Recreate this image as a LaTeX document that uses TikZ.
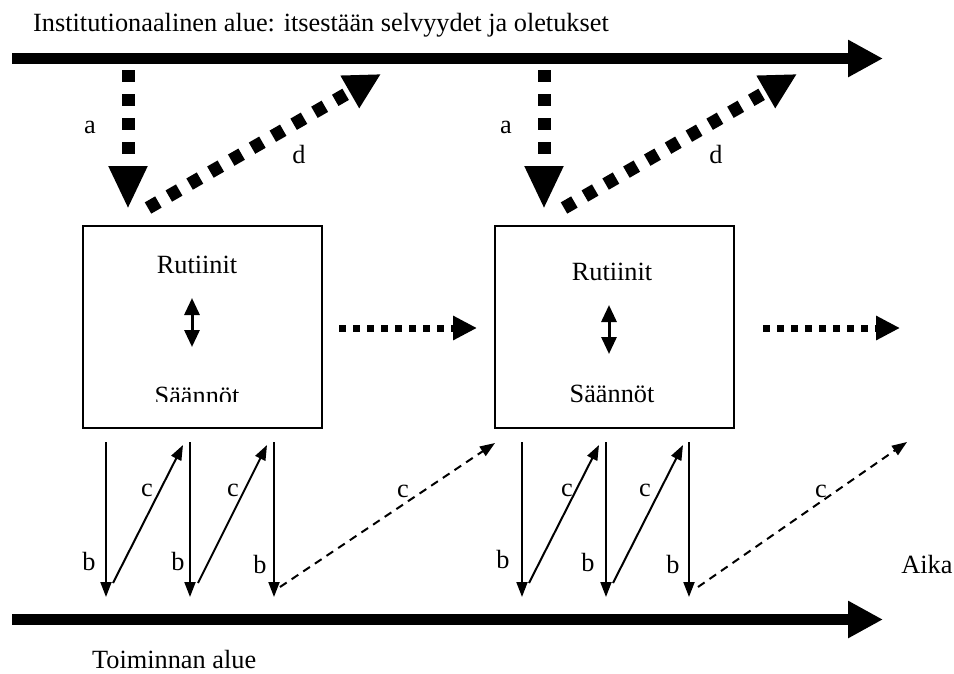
\documentclass[tikz,border=0pt]{standalone}
\usepackage{fontspec}
\setmainfont{Liberation Serif}
\usetikzlibrary{arrows.meta}
\begin{document}
\begin{tikzpicture}[x=1pt,y=-1pt,
  txt/.style={font=\fontsize{26.3}{30}\selectfont, inner sep=0pt, anchor=base},
  lbl/.style={txt},
  boxnode/.style={draw, line width=2pt, inner sep=0pt},
  bigbar/.style={line width=11pt, -{Triangle[length=35pt,width=35pt]}},
  fatdash/.style={line width=13pt, dash pattern=on 12pt off 12pt, -{Triangle[length=43pt,width=36pt]}},
  fatdashd/.style={line width=13pt, dash pattern=on 12pt off 12pt, -{Triangle[length=36pt,width=35pt]}},
  dotarrow/.style={line width=7pt, dash pattern=on 7pt off 7pt, -{Triangle[length=24pt,width=23pt]}},
  thin/.style={line width=2pt, -{Triangle[length=15pt,width=11pt]}},
  thindash/.style={thin, dash pattern=on 8pt off 6pt},
  dbl/.style={line width=3pt, {Triangle[length=17pt,width=15pt]}-{Triangle[length=17pt,width=15pt]}}
]
\useasboundingbox (0,0) rectangle (954,673);

% texts
\node[txt, anchor=base west] (title) at (33,31) {Institutionaalinen alue: itsestään selvyydet ja oletukset};
\node[txt, anchor=base west] (toim) at (92,668) {Toiminnan alue};
\node[txt] (aika) at (927,573) {Aika};

% main bars
\coordinate (t0) at (12,58.5);
\coordinate (t1) at (883,58.5);
\coordinate (u0) at (12,619.5);
\coordinate (u1) at (883,619.5);
\draw[bigbar] (t0) -- (t1);
\draw[bigbar] (u0) -- (u1);

% boxes
\node[boxnode, minimum width=239pt, minimum height=202pt] (box1) at (202.5,327) {};
\node[boxnode, minimum width=239pt, minimum height=202pt] (box2) at (614.5,327) {};

\node[txt] (rut1) at (197,273) {Rutiinit};
\begin{scope}
  \clip (84,227) rectangle (321,401);
  \node[txt] (saa1) at (197,404) {Säännöt};
\end{scope}
\node[txt] (rut2) at (612,280) {Rutiinit};
\node[txt] (saa2) at (612,402) {Säännöt};

\coordinate (da1) at (192,298); \coordinate (db1) at (192,347);
\coordinate (da2) at (609,305); \coordinate (db2) at (609,354);
\draw[dbl] (da1) -- (db1);
\draw[dbl] (da2) -- (db2);

% a and d arrows
\coordinate (a1s) at (128,70);  \coordinate (a1e) at (128,209);
\coordinate (a2s) at (544,70);  \coordinate (a2e) at (544,209);
\coordinate (d1s) at (148,208); \coordinate (d1e) at (381,74);
\coordinate (d2s) at (564,208); \coordinate (d2e) at (797,74);
\draw[fatdash] (a1s) -- (a1e);
\draw[fatdash] (a2s) -- (a2e);
\draw[fatdashd] (d1s) -- (d1e);
\draw[fatdashd] (d2s) -- (d2e);
\node[lbl] (la1) at (90,133) {a};
\node[lbl] (la2) at (506,133) {a};
\node[lbl] (ld1) at (299,163) {d};
\node[lbl] (ld2) at (716,163) {d};

% horizontal dotted arrows
\coordinate (h1s) at (339,328); \coordinate (h1e) at (477,328);
\coordinate (h2s) at (763,328); \coordinate (h2e) at (900,328);
\draw[dotarrow] (h1s) -- (h1e);
\draw[dotarrow] (h2s) -- (h2e);

% lower thin arrows, left group
\coordinate (b1s) at (106,442); \coordinate (b1e) at (106,597);
\coordinate (b2s) at (190,442); \coordinate (b2e) at (190,597);
\coordinate (b3s) at (274,442); \coordinate (b3e) at (274,597);
\coordinate (c1s) at (113,583); \coordinate (c1e) at (183,445);
\coordinate (c2s) at (198,583); \coordinate (c2e) at (267,445);
\coordinate (c3s) at (280,587); \coordinate (c3e) at (495,443);
\draw[thin] (b1s) -- (b1e);
\draw[thin] (b2s) -- (b2e);
\draw[thin] (b3s) -- (b3e);
\draw[thin] (c1s) -- (c1e);
\draw[thin] (c2s) -- (c2e);
\draw[thindash] (c3s) -- (c3e);

% lower thin arrows, right group
\coordinate (b4s) at (522,442); \coordinate (b4e) at (522,597);
\coordinate (b5s) at (606,442); \coordinate (b5e) at (606,597);
\coordinate (b6s) at (689,442); \coordinate (b6e) at (689,597);
\coordinate (c4s) at (529,583); \coordinate (c4e) at (599,445);
\coordinate (c5s) at (613,583); \coordinate (c5e) at (683,445);
\coordinate (c6s) at (698,587); \coordinate (c6e) at (907,442);
\draw[thin] (b4s) -- (b4e);
\draw[thin] (b5s) -- (b5e);
\draw[thin] (b6s) -- (b6e);
\draw[thin] (c4s) -- (c4e);
\draw[thin] (c5s) -- (c5e);
\draw[thindash] (c6s) -- (c6e);

% labels b and c
\node[lbl] (lb1) at (89,570) {b};
\node[lbl] (lb2) at (178,570) {b};
\node[lbl] (lb3) at (260,573) {b};
\node[lbl] (lb4) at (503,568) {b};
\node[lbl] (lb5) at (588,571) {b};
\node[lbl] (lb6) at (673,573) {b};
\node[lbl] (lc1) at (147,496) {c};
\node[lbl] (lc2) at (233,496) {c};
\node[lbl] (lc3) at (403,497) {c};
\node[lbl] (lc4) at (567,496) {c};
\node[lbl] (lc5) at (645,496) {c};
\node[lbl] (lc6) at (821,497) {c};
\end{tikzpicture}
\end{document}
